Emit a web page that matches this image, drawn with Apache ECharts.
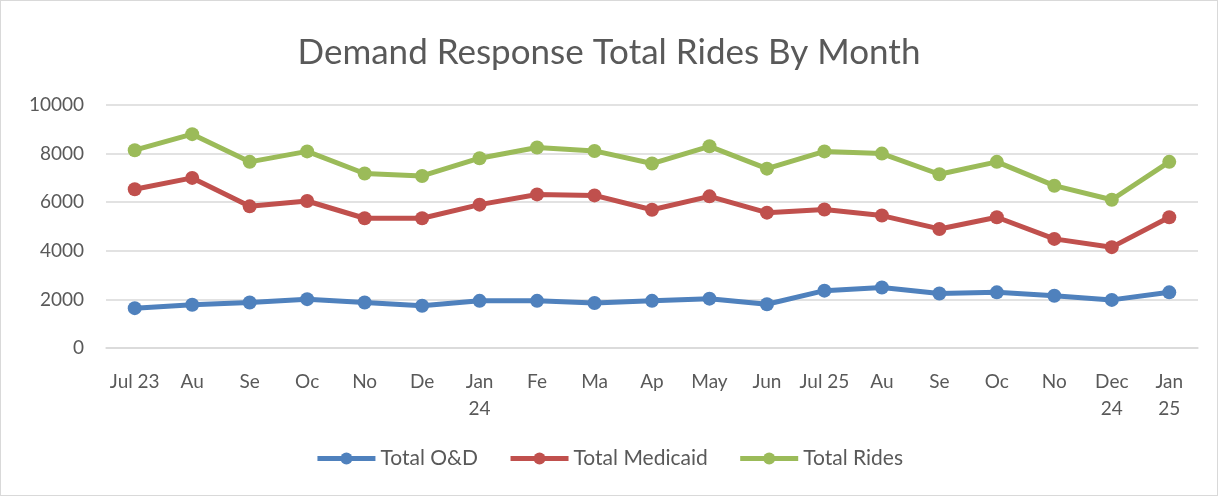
<!DOCTYPE html>
<html>
<head>
<meta charset="utf-8">
<script src="https://cdn.jsdelivr.net/npm/echarts@6/dist/echarts.min.js"></script>
<style>
html, body { margin: 0; padding: 0; background: #fff; }
#main { width: 1216px; height: 494px; border: 1px solid #d9d9d9; }
</style>
</head>
<body>
<div id="main"></div>
<script>
var months = ['Jul 23', 'Au', 'Se', 'Oc', 'No', 'De', 'Jan\n24', 'Fe', 'Ma', 'Ap', 'May', 'Jun',
    'Jul 25', 'Au', 'Se', 'Oc', 'No', 'Dec\n24', 'Jan\n25'];
var totalOD = [1640, 1780, 1870, 2010, 1870, 1740, 1940, 1940, 1850, 1940, 2030, 1800,
    2360, 2490, 2240, 2290, 2150, 1980, 2290];
var totalMedicaid = [6530, 7000, 5830, 6050, 5340, 5340, 5900, 6320, 6280, 5690, 6240, 5570,
    5700, 5450, 4900, 5380, 4490, 4150, 5380];
var totalRides = [8140, 8800, 7660, 8090, 7180, 7080, 7810, 8250, 8110, 7590, 8300, 7380,
    8090, 8000, 7150, 7660, 6680, 6100, 7660];

var myChart = echarts.init(document.getElementById('main'));
var font = 'Lato';
function line(name, data, color) {
    return {
        name: name,
        type: 'line',
        data: data,
        symbol: 'circle',
        symbolSize: 14,
        lineStyle: { width: 5, color: color },
        itemStyle: { color: color },
        animation: false
    };
}
option = {
    textStyle: { fontFamily: font },
    title: {
        text: 'Demand Response Total Rides By Month',
        left: 'center',
        top: 29,
        textStyle: { fontSize: 35, fontWeight: 'normal', color: '#595959', fontFamily: font }
    },
    legend: {
        bottom: 21,
        itemWidth: 58,
        itemHeight: 15,
        itemGap: 30,
        lineStyle: { width: 5 },
        textStyle: { fontSize: 21, color: '#595959' },
        data: ['Total O&D', 'Total Medicaid', 'Total Rides']
    },
    grid: { left: 105, right: 19, top: 104, bottom: 147 },
    xAxis: {
        type: 'category',
        data: months,
        axisLine: { lineStyle: { color: '#d9d9d9', width: 1.5 } },
        axisTick: { show: false },
        axisLabel: { fontSize: 19, color: '#595959', margin: 20, lineHeight: 27, interval: 0 }
    },
    yAxis: {
        type: 'value',
        min: 0,
        max: 10000,
        interval: 2000,
        axisLabel: {
            fontSize: 19, color: '#595959', margin: 22,
            formatter: function (v) { return String(v); }
        },
        splitLine: { lineStyle: { color: '#d9d9d9', width: 1.5 } }
    },
    series: [
        line('Total O&D', totalOD, '#4f81bd'),
        line('Total Medicaid', totalMedicaid, '#c0504d'),
        line('Total Rides', totalRides, '#9bbb59')
    ]
};
myChart.setOption(option);
</script>
</body>
</html>
